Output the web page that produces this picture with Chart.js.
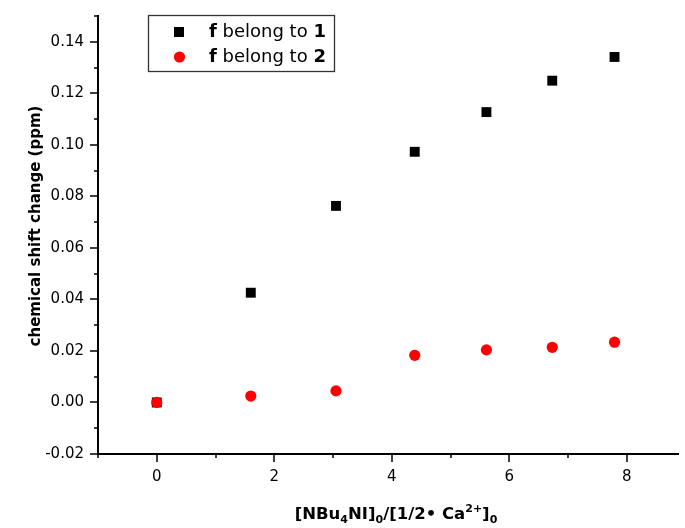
<!DOCTYPE html>
<html>
<head>
<meta charset="utf-8">
<script src="https://cdn.jsdelivr.net/npm/chart.js@4.4.1/dist/chart.umd.min.js"></script>
<style>
  body { margin: 0; background: #fff; overflow: hidden; }
</style>
</head>
<body>
<canvas id="myChart" width="685" height="528"></canvas>
<script>
// ratio [NBu4NI]0 / [1/2 Ca2+]0
const ratio = [0, 1.6, 3.05, 4.39, 5.61, 6.73, 7.79];
const shift1 = [0, 0.0426, 0.0763, 0.0973, 0.1127, 0.1249, 0.1341];
const shift2 = [0, 0.0025, 0.0045, 0.0183, 0.0204, 0.0214, 0.0234];

const xTicks = [0, 2, 4, 6, 8];
const xMinor = [-1, 1, 3, 5, 7];
const yTicks = [-0.02, 0, 0.02, 0.04, 0.06, 0.08, 0.10, 0.12, 0.14];
const yMinor = [-0.01, 0.01, 0.03, 0.05, 0.07, 0.09, 0.11, 0.13, 0.15];

const FONT = 'DejaVu Sans';

const pts = (xs, ys) => xs.map((x, i) => ({x: x, y: ys[i]}));

// outward tick marks, major and minor
const tickMarks = {
  id: 'tickMarks',
  afterDraw(chart) {
    const ctx = chart.ctx;
    const xs = chart.scales.x, ys = chart.scales.y;
    ctx.save();
    ctx.strokeStyle = '#000';
    ctx.lineWidth = 1.5;
    ctx.beginPath();
    xTicks.forEach(v => { const p = Math.round(xs.getPixelForValue(v)); ctx.moveTo(p, ys.bottom); ctx.lineTo(p, ys.bottom + 8); });
    xMinor.forEach(v => { const p = Math.round(xs.getPixelForValue(v)); ctx.moveTo(p, ys.bottom); ctx.lineTo(p, ys.bottom + 4); });
    yTicks.forEach(v => { const p = Math.round(ys.getPixelForValue(v)); ctx.moveTo(xs.left, p); ctx.lineTo(xs.left - 8, p); });
    yMinor.forEach(v => { const p = Math.round(ys.getPixelForValue(v)); ctx.moveTo(xs.left, p); ctx.lineTo(xs.left - 4, p); });
    ctx.stroke();
    ctx.restore();
  }
};

// draws a run of text pieces: [text, bold, size, dy]
function drawRuns(ctx, runs, x, y) {
  runs.forEach(r => {
    ctx.font = (r[1] ? 'bold ' : '') + r[2] + 'px "' + FONT + '"';
    ctx.fillText(r[0], x, y + r[3]);
    x += ctx.measureText(r[0]).width;
  });
}
function runsWidth(ctx, runs) {
  let w = 0;
  runs.forEach(r => {
    ctx.font = (r[1] ? 'bold ' : '') + r[2] + 'px "' + FONT + '"';
    w += ctx.measureText(r[0]).width;
  });
  return w;
}

const axisTitles = {
  id: 'axisTitles',
  afterDraw(chart) {
    const ctx = chart.ctx;
    const runs = [
      ['[NBu', true, 16.5, 0], ['4', true, 11, 4], ['NI]', true, 16.5, 0], ['0', true, 11, 4],
      ['/[1/2\u2022 Ca', true, 16.5, 0], ['2+', true, 11, -7], [']', true, 16.5, 0], ['0', true, 11, 4]
    ];
    ctx.save();
    ctx.fillStyle = '#000';
    ctx.textBaseline = 'alphabetic';
    const w = runsWidth(ctx, runs);
    drawRuns(ctx, runs, 396 - w / 2, 519);
    ctx.restore();

    ctx.save();
    ctx.translate(36, 226);
    ctx.rotate(-Math.PI / 2);
    ctx.fillStyle = '#000';
    ctx.textAlign = 'center';
    ctx.textBaseline = 'middle';
    ctx.font = 'bold 15px "' + FONT + '"';
    ctx.fillText('chemical shift change (ppm)', 0, 0);
    ctx.restore();
  }
};

const boxLegend = {
  id: 'boxLegend',
  afterDraw(chart) {
    const ctx = chart.ctx;
    ctx.save();
    ctx.strokeStyle = '#333';
    ctx.lineWidth = 1.3;
    ctx.strokeRect(148.5, 15.5, 186, 56);
    ctx.fillStyle = '#000';
    ctx.fillRect(174, 27, 10, 10);
    ctx.fillStyle = '#ff0000';
    ctx.beginPath();
    ctx.arc(179.5, 57, 5.6, 0, Math.PI * 2);
    ctx.fill();
    ctx.fillStyle = '#000';
    ctx.textBaseline = 'middle';
    drawRuns(ctx, [['f', true, 18, 0], [' belong to ', false, 18, 0], ['1', true, 18, 0]], 209, 32);
    drawRuns(ctx, [['f', true, 18, 0], [' belong to ', false, 18, 0], ['2', true, 18, 0]], 209, 57);
    ctx.restore();
  }
};

const config = {
  type: 'scatter',
  data: {
    datasets: [{
      label: 'f belong to 1',
      data: pts(ratio, shift1),
      pointStyle: 'rect',
      pointRadius: 7,
      pointHoverRadius: 7,
      pointBorderWidth: 0,
      backgroundColor: '#000',
      borderColor: '#000',
      order: 1
    }, {
      label: 'f belong to 2',
      data: pts(ratio, shift2),
      pointStyle: 'circle',
      pointRadius: 5.6,
      pointHoverRadius: 5.6,
      pointBorderWidth: 0,
      backgroundColor: '#ff0000',
      borderColor: '#ff0000',
      order: 0
    }]
  },
  options: {
    responsive: false,
    animation: false,
    devicePixelRatio: 1,
    layout: { padding: { top: 16, right: 0, left: 0, bottom: 0 } },
    plugins: {
      legend: { display: false },
      tooltip: { enabled: false }
    },
    scales: {
      x: {
        type: 'linear',
        min: -1,
        max: 8.87,
        afterFit: s => { s.height = 74; s.paddingLeft = 0; s.paddingRight = 0; },
        afterBuildTicks: s => { s.ticks = xTicks.map(v => ({value: v})); },
        grid: { display: false, drawTicks: false },
        border: { display: true, color: '#000', width: 2 },
        ticks: {
          padding: 14,
          color: '#000',
          font: { family: FONT, size: 15 },
          maxRotation: 0,
          callback: v => String(v)
        }
      },
      y: {
        type: 'linear',
        min: -0.02,
        max: 0.15,
        afterFit: s => { s.width = 98; s.paddingTop = 0; s.paddingBottom = 0; },
        afterBuildTicks: s => { s.ticks = yTicks.map(v => ({value: v})); },
        grid: { display: false, drawTicks: false },
        border: { display: true, color: '#000', width: 2 },
        ticks: {
          padding: 14,
          color: '#000',
          font: { family: FONT, size: 15 },
          callback: v => v.toFixed(2)
        }
      }
    }
  },
  plugins: [tickMarks, axisTitles, boxLegend]
};

const myChart = new Chart(document.getElementById('myChart'), config);
</script>
</body>
</html>
